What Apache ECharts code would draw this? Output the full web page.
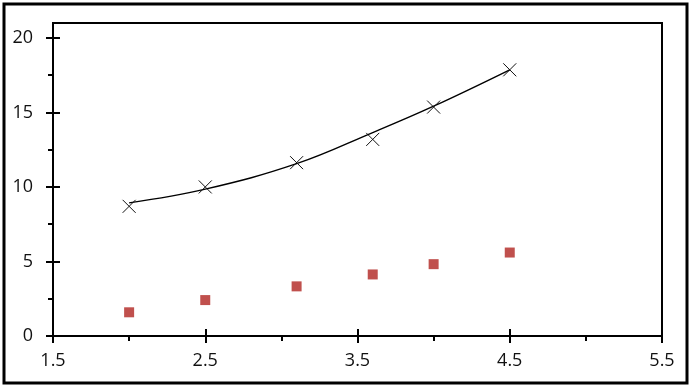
<!DOCTYPE html>
<html>
<head>
<meta charset="utf-8">
<script src="https://cdn.jsdelivr.net/npm/echarts@6/dist/echarts.min.js"></script>
<style>
html,body{margin:0;padding:0;background:#fff;}
#chart{width:694px;height:388px;}
</style>
</head>
<body>
<div id="chart"></div>
<script>
// Data
var xValues = [2.0, 2.5, 3.1, 3.6, 4.0, 4.5];
var crossValues = [8.7, 10.0, 11.63, 13.19, 15.36, 17.86];
var squareValues = [1.59, 2.41, 3.33, 4.13, 4.82, 5.6];
var trendValues = [8.93, 9.85, 11.56, 13.65, 15.42, 17.86];

var xTickLabels = [1.5, 2.5, 3.5, 4.5, 5.5];
var xMinorTicks = [2.0, 3.0, 4.0, 5.0];
var yTickLabels = [0, 5, 10, 15, 20];
var yMinorTicks = [2.5, 7.5, 12.5, 17.5];

function pairs(xs, ys) { return xs.map(function (x, i) { return [x, ys[i]]; }); }

var font = { fontFamily: 'Open Sans', fontSize: 18, color: '#111' };
var lineBlack = { color: '#000', width: 2 };

function xAx(extra) {
  return Object.assign({
    type: 'value', min: 1.5, max: 5.5, position: 'bottom',
    axisLine: { show: false }, splitLine: { show: false },
    axisLabel: { show: false }
  }, extra);
}
function yAx(extra) {
  return Object.assign({
    type: 'value', min: 0, max: 21, position: 'left',
    axisLine: { show: false }, splitLine: { show: false },
    axisLabel: { show: false }
  }, extra);
}

var chart = echarts.init(document.getElementById('chart'));
chart.setOption({
  animation: false,
  backgroundColor: '#fff',
  grid: { left: 53, top: 23, right: 32, bottom: 52, show: true, borderColor: '#000', borderWidth: 2, backgroundColor: 'transparent' },
  xAxis: [
    xAx({
      axisLine: { show: true, onZero: false, lineStyle: lineBlack },
      axisTick: { show: true, customValues: xTickLabels, length: 7, inside: false, lineStyle: lineBlack },
      axisLabel: Object.assign({ show: true, customValues: xTickLabels, margin: 16, formatter: function (v) { return v.toFixed(1); } }, font)
    }),
    xAx({ axisTick: { show: true, customValues: xTickLabels, length: 7, inside: true, lineStyle: lineBlack }, axisLabel: { show: false, customValues: xTickLabels } }),
    xAx({ axisTick: { show: true, customValues: xMinorTicks, length: 5, inside: false, lineStyle: lineBlack }, axisLabel: { show: false, customValues: xMinorTicks } })
  ],
  yAxis: [
    yAx({
      axisLine: { show: true, onZero: false, lineStyle: lineBlack },
      axisTick: { show: true, customValues: yTickLabels, length: 7, inside: false, lineStyle: lineBlack },
      axisLabel: Object.assign({ show: true, customValues: yTickLabels, margin: 20 }, font)
    }),
    yAx({ axisTick: { show: true, customValues: yTickLabels, length: 7, inside: true, lineStyle: lineBlack }, axisLabel: { show: false, customValues: yTickLabels } }),
    yAx({ axisTick: { show: true, customValues: yMinorTicks, length: 5, inside: false, lineStyle: lineBlack }, axisLabel: { show: false, customValues: yMinorTicks } })
  ],
  graphic: [{
    type: 'rect', shape: { x: 4, y: 4, width: 683, height: 379 },
    style: { fill: 'none', stroke: '#000', lineWidth: 3 }, silent: true, z: 100
  }],
  series: [
    {
      type: 'line', data: pairs(xValues, trendValues), smooth: 0.4,
      showSymbol: false, lineStyle: { color: '#000', width: 1.4 }, z: 2
    },
    {
      type: 'scatter', data: pairs(xValues, crossValues),
      symbol: 'path://M0,0L10,10M10,0L0,10', symbolSize: 13,
      itemStyle: { color: 'none', borderColor: '#111', borderWidth: 1, opacity: 1 }, z: 3
    },
    {
      type: 'scatter', data: pairs(xValues, squareValues),
      symbol: 'rect', symbolSize: 10,
      itemStyle: { color: '#C0504D', opacity: 1 }, z: 3
    }
  ]
});
</script>
</body>
</html>
